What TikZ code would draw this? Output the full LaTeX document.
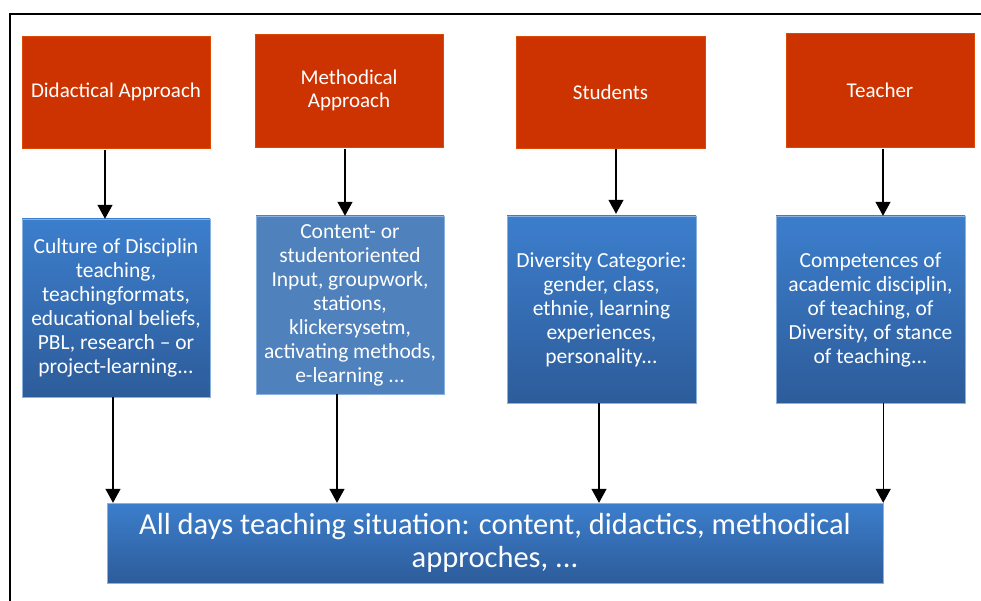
\documentclass[tikz,border=0pt]{standalone}
\usepackage{fontspec}
\setmainfont{Carlito}
\usetikzlibrary{arrows.meta}
\usetikzlibrary{positioning}

\definecolor{redbox}{RGB}{204,51,0}
\definecolor{bluetop}{RGB}{60,126,204}
\definecolor{bluebot}{RGB}{45,92,154}
\definecolor{blueflat}{RGB}{79,129,189}

\begin{document}
\begin{tikzpicture}[x=1pt,y=-1pt,
  headbox/.style={rectangle,fill=redbox,draw=redbox!70!orange,line width=0.4pt,minimum width=188pt,minimum height=112pt,text=white,align=center,inner sep=0pt,font=\fontsize{21}{23}\selectfont},
  infobox/.style={rectangle,top color=bluetop,bottom color=bluebot,draw=bluetop!60!white,line width=0.4pt,minimum width=188pt,minimum height=178pt,text=white,align=center,inner sep=0pt,font=\fontsize{21.5}{24}\selectfont},
  flow/.style={line width=1.3pt,-{Triangle[width=15pt,length=14pt]}}]
\useasboundingbox (0,0) rectangle (981,601);
\draw[line width=1.5pt] (10,610) -- (10,14) -- (990,14);

\node[headbox] (r1) at (116,92) {Didactical Approach};
\node[headbox,minimum height=113pt] (r2) at (349,90.5) {Methodical\\Approach};
\node[headbox,minimum width=189pt] (r3) at (610.5,92) {Students};
\node[headbox,minimum height=114pt] (r4) at (880,90) {Teacher};

\node[infobox] (b1) at (116,308) {Culture of Disciplin\\teaching,\\teachingformats,\\educational beliefs,\\PBL, research -- or\\project-learning...};
\node[infobox,fill=blueflat,top color=blueflat,bottom color=blueflat] (b2) at (350,305) {Content- or\\studentoriented\\Input, groupwork,\\stations,\\klickersysetm,\\activating methods,\\e-learning ...};
\node[infobox,minimum width=189pt,minimum height=187pt] (b3) at (601.5,309.5) {Diversity Categorie:\\gender, class,\\ethnie, learning\\experiences,\\personality...};
\node[infobox,minimum width=189pt,minimum height=187pt] (b4) at (870.5,309.5) {Competences of\\academic disciplin,\\of teaching, of\\Diversity, of stance\\of teaching...};

\node[infobox,minimum width=776pt,minimum height=80pt,font=\fontsize{30.5}{33}\selectfont] (all) at (495,543) {All days teaching situation: content, didactics, methodical\\approches, ...};

\draw[flow] ([xshift=-11pt,yshift=-2pt]r1.south) -- ([xshift=-11pt]b1.north);
\draw[flow] ([xshift=-4pt,yshift=-2pt]r2.south) -- ([xshift=-5pt]b2.north);
\draw[flow] ([xshift=5.5pt,yshift=-1pt]r3.south) -- ([xshift=14.5pt,yshift=2pt]b3.north);
\draw[flow] ([xshift=3pt,yshift=-2pt]r4.south) -- ([xshift=12.5pt]b4.north);

\draw[flow] ([xshift=-3pt]b1.south) -- (all.north west -| 113,0);
\draw[flow] ([xshift=-13pt]b2.south) -- (all.north west -| 337,0);
\draw[flow] ([xshift=-2.5pt]b3.south) -- (all.north west -| 599,0);
\draw[flow] (b4.south -| all.east) -- (all.north east);

\end{tikzpicture}
\end{document}
